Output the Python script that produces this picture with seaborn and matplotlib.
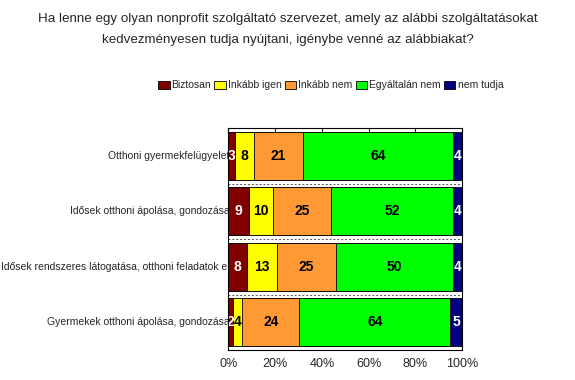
import matplotlib
matplotlib.use("Agg")
import matplotlib.pyplot as plt
import matplotlib.transforms as mtransforms
import seaborn as sns
import pandas as pd
import numpy as np
from matplotlib.patches import Patch

categories = ["Otthoni gyermekfelügyelet",
              "Idősek otthoni ápolása, gondozása",
              "Idősek rendszeres látogatása, otthoni feladatok el",
              "Gyermekek otthoni ápolása, gondozása"]
series = ["Biztosan", "Inkább igen", "Inkább nem", "Egyáltalán nem", "nem tudja"]
biztosan = [3, 9, 8, 2]
inkabb_igen = [8, 10, 13, 4]
inkabb_nem = [21, 25, 25, 24]
egyaltalan_nem = [64, 52, 50, 64]
nem_tudja = [4, 4, 4, 5]
colors = ["#800000", "#FFFF00", "#FF9933", "#00FF00", "#000080"]
text_colors = ["white", "black", "black", "black", "white"]
xticks = [0, 20, 40, 60, 80, 100]
xticklabels = ["0%", "20%", "40%", "60%", "80%", "100%"]

sns.set_style("white")
plt.rcParams['font.family'] = ['Liberation Sans', 'DejaVu Sans']

vals = np.array([biztosan, inkabb_igen, inkabb_nem, egyaltalan_nem, nem_tudja], dtype=float)
pct = vals / vals.sum(axis=0) * 100
cum = np.cumsum(pct, axis=0)

fig = plt.figure(figsize=(5.75, 3.8), dpi=100)
ax = fig.add_axes([0.397, 0.079, 0.407, 0.584])

for i in range(len(series) - 1, -1, -1):
    df = pd.DataFrame({"cat": categories, "val": cum[i]})
    sns.barplot(data=df, y="cat", x="val", orient="h", color=colors[i],
                edgecolor="black", linewidth=0.6, width=0.86, saturation=1, ax=ax,
                zorder=2)

for i in range(len(series)):
    for j in range(len(categories)):
        start = cum[i][j] - pct[i][j]
        ax.text(start + pct[i][j] / 2, j, str(int(vals[i][j])), ha="center", va="center",
                fontsize=10, fontweight="bold", color=text_colors[i], zorder=4)

# category labels drawn beneath the bars, as in the reference
trans = mtransforms.blended_transform_factory(ax.transAxes, ax.transData)
for j, c in enumerate(categories):
    ax.text(0.006, j, c, transform=trans, ha="right", va="center", fontsize=7.5,
            zorder=1, clip_on=False)

ax.set_xlim(0, 100)
ax.set_ylim(3.5, -0.5)
ax.set_xticks(xticks)
ax.set_xticklabels(xticklabels, fontsize=9)
ax.set_yticklabels([])
ax.set_xlabel("")
ax.set_ylabel("")
ax.tick_params(axis="y", length=0)
ax.tick_params(axis="x", length=3, direction="in", top=True, bottom=False, pad=6)
for y in [0.5, 1.5, 2.5]:
    ax.axhline(y, color="#555555", linestyle=(0, (2, 2)), linewidth=0.7, zorder=1.5)
for s in ax.spines.values():
    s.set_color("black")
    s.set_linewidth(0.8)
    s.set_zorder(5)

fig.text(0.5, 0.965, "Ha lenne egy olyan nonprofit szolgáltató szervezet, amely az alábbi szolgáltatásokat\nkedvezményesen tudja nyújtani, igénybe venné az alábbiakat?",
         ha="center", va="top", fontsize=9.6, linespacing=2.0)

handles = [Patch(facecolor=c, edgecolor="black", linewidth=0.6) for c in colors]
fig.legend(handles, series, loc="center", bbox_to_anchor=(0.575, 0.775), ncol=5, frameon=False,
           fontsize=7.5, handlelength=1.1, handleheight=0.9, handletextpad=0.2, columnspacing=0.3)

fig.savefig("out.png", dpi=100)
